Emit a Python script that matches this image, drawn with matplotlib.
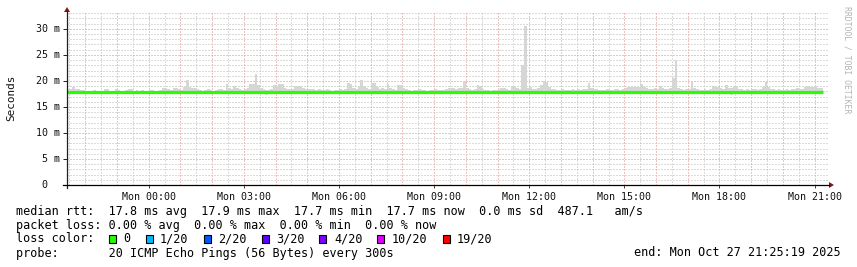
import numpy as np
import matplotlib
matplotlib.use("Agg")
import matplotlib.pyplot as plt
from matplotlib.patches import Rectangle, Polygon
from matplotlib.lines import Line2D
import matplotlib.transforms as mtrans

W, H, DPI = 857, 267, 100

# ---------------- data (ms), one value per 5-minute step ----------------
step_hours = 5 / 60
end_hours = 21 + 25 / 60 + 19 / 3600          # Mon 21:25:19
start_hours = end_hours - 24

smoke_top = (
    [18.4, 18.5, 18.9, 18.5, 18.4, 18.3, 18.2, 18.1, 18.1, 18.1, 18.2, 18.1,
     18.1, 18.1, 18.4, 18.4, 18.1, 18.1, 18.4, 18.3, 18.1, 18.1, 18.2, 18.4] +
    [18.4, 18.1, 18.2, 18.1, 18.3, 18.1, 18.1, 18.3, 18.2, 18.1, 18.1, 18.2,
     18.6, 18.6, 18.5, 18.2, 18.6, 18.6, 18.5, 18.3, 18.9, 20.2, 18.9, 18.6] +
    [18.6, 18.5, 18.3, 18.1, 18.2, 18.4, 18.2, 18.1, 18.3, 18.5, 18.4, 18.3,
     19.4, 18.6, 18.5, 19.0, 18.7, 18.4, 18.3, 18.5, 18.6, 19.4, 19.4, 21.3] +
    [19.2, 18.6, 18.4, 18.3, 18.2, 18.5, 19.2, 19.1, 19.4, 19.4, 18.6, 18.5,
     18.5, 18.5, 19.0, 19.0, 19.0, 18.6, 18.4, 18.4, 18.4, 18.4, 18.3, 18.4] +
    [18.3, 18.2, 18.4, 18.3, 18.1, 18.2, 18.3, 18.4, 18.2, 18.4, 19.6, 19.5,
     18.6, 18.5, 19.0, 20.1, 19.0, 18.6, 18.5, 19.6, 19.6, 18.8, 18.5, 18.6] +
    [18.5, 19.4, 18.7, 18.4, 18.3, 19.2, 19.2, 18.6, 18.4, 18.2, 18.1, 18.3,
     18.2, 18.4, 18.3, 18.2, 18.1, 18.3, 18.2, 18.4, 18.3, 18.2, 18.3, 18.4] +
    [18.6, 18.6, 18.6, 18.5, 18.6, 18.6, 19.9, 18.7, 18.5, 18.3, 18.4, 19.2,
     19.0, 18.4, 18.3, 18.2, 18.1, 18.2, 18.3, 18.4, 18.6, 18.6, 18.5, 18.3] +
    [19.0, 19.0, 18.6, 18.5, 23.1, 30.6, 18.7, 18.8, 18.5, 18.4, 18.6, 19.2,
     19.9, 19.8, 18.8, 18.5, 18.4, 18.3, 18.2, 18.4, 18.3, 18.2, 18.3, 18.4] +
    [18.3, 18.4, 18.2, 18.5, 18.4, 19.6, 18.6, 18.4, 18.5, 18.3, 18.2, 18.3,
     18.4, 18.2, 18.3, 18.4, 18.5, 18.3, 18.4, 18.6, 18.9, 18.9, 18.8, 18.9] +
    [18.9, 19.4, 18.8, 18.6, 18.5, 18.4, 18.6, 18.5, 19.0, 18.6, 18.4, 18.5,
     18.6, 20.5, 24.0, 18.6, 18.4, 18.3, 18.4, 18.5, 19.7, 18.6, 18.4, 18.3] +
    [18.3, 18.4, 18.3, 18.5, 19.0, 19.0, 18.9, 18.6, 18.5, 19.2, 18.7, 18.6,
     19.0, 18.9, 18.5, 18.4, 18.3, 18.4, 18.3, 18.5, 18.4, 18.3, 18.5, 18.8] +
    [19.7, 18.8, 18.5, 18.4, 18.3, 18.4, 18.3, 18.2, 18.4, 18.3, 18.4, 18.5,
     18.6, 18.4, 18.5, 18.9, 19.0, 18.9, 18.8, 19.0, 18.7, 18.6]
)

# lower edge of the smoke (min ping), mostly hidden below the median line
smoke_low = (
    [17.6] * 24 + [17.6] * 24 + [17.6] * 24 +
    [17.6, 17.6, 17.6, 17.3, 17.6, 17.6, 17.6, 17.6, 17.6, 17.6, 17.6, 17.6,
     17.6, 17.6, 17.6, 17.6, 17.6, 17.6, 17.6, 17.6, 17.6, 17.6, 17.6, 17.6] +
    [17.6] * 24 + [17.6] * 24 + [17.6] * 24 + [17.6] * 24 + [17.6] * 24 +
    [17.6] * 24 +
    [17.6, 17.6, 17.6, 17.6, 17.6, 17.6, 17.6, 17.6, 17.6, 17.6, 17.6, 17.3,
     17.6, 17.6, 17.6, 17.6, 17.6, 17.6, 17.6, 17.6, 17.6, 17.6, 17.6, 17.6] +
    [17.6] * 22
)

median_rtt = [17.8] * len(smoke_top)

x_tick_hours = [0, 3, 6, 9, 12, 15, 18, 21]
x_tick_labels = ["Mon 00:00", "Mon 03:00", "Mon 06:00", "Mon 09:00",
                 "Mon 12:00", "Mon 15:00", "Mon 18:00", "Mon 21:00"]
y_tick_values = [0, 5, 10, 15, 20, 25, 30]
y_tick_labels = ["0", "5 m", "10 m", "15 m", "20 m", "25 m", "30 m"]

loss_labels = ["0", "1/20", "2/20", "3/20", "4/20", "10/20", "19/20"]
loss_colors = ["#26ff00", "#00b8ff", "#0059ff", "#5e00ff", "#7e00ff",
               "#dd00ff", "#ff0000"]

line_rtt = "median rtt:  17.8 ms avg  17.9 ms max  17.7 ms min  17.7 ms now  0.0 ms sd  487.1   am/s"
line_loss = "packet loss: 0.00 % avg  0.00 % max  0.00 % min  0.00 % now"
line_probe = "probe:       20 ICMP Echo Pings (56 Bytes) every 300s"
line_end = "end: Mon Oct 27 21:25:19 2025"

# ---------------- figure ----------------
MONO = "DejaVu Sans Mono"
fig = plt.figure(figsize=(W / DPI, H / DPI), dpi=DPI, facecolor="white")


def fx(px):
    return px / W


def fy(py):
    return 1 - py / H


ax_l, ax_r, ax_t, ax_b = 67, 828, 13, 185
ax = fig.add_axes([fx(ax_l), fy(ax_b), (ax_r - ax_l) / W, (ax_b - ax_t) / H])
ax.set_facecolor("white")
ax.set_xlim(start_hours, end_hours)
ax.set_ylim(0, 33.05)
for s in ax.spines.values():
    s.set_visible(False)

# grid: 1px dotted lines
minor_col = "#b8b8b8"
major_col = "#e08888"
dot = (0, (1, 2))


def grid_line(line):
    line.set_snap(True)
    return line


h = np.ceil(start_hours * 2) / 2
while h < end_hours:
    is_major = abs(h - round(h)) < 1e-9
    grid_line(ax.axvline(h, color=major_col if is_major else minor_col,
                         lw=0.72, ls=dot, zorder=1))
    h += 0.5
for v in range(1, 34):
    grid_line(ax.axhline(v, color=major_col if v % 5 == 0 else minor_col,
                         lw=0.72, ls=dot, zorder=1))

# smoke
n = len(smoke_top)
edges = start_hours + np.arange(n + 1) * step_hours
top = np.array(smoke_top)
low = np.array(smoke_low)
med = np.array(median_rtt)
ax.bar(edges[:-1], top - low, bottom=low, width=step_hours, align="edge",
       color="#d6d6d6", linewidth=0, zorder=2)

# median line
ax.stairs(med, edges, baseline=None, color="#26ff00", lw=2.3, zorder=3)

# ticks
ax.set_xticks(x_tick_hours)
ax.set_xticklabels(x_tick_labels, fontfamily=MONO, fontsize=7.2, color="#111")
ax.tick_params(axis="x", length=2, width=0.7, color="#444", pad=3)
ax.set_yticks(y_tick_values)
ax.set_yticklabels([])
ax.tick_params(axis="y", length=3, width=0.7, color="#222", pad=2)
tr = mtrans.blended_transform_factory(fig.transFigure, ax.transData)
for v, lab in zip(y_tick_values, y_tick_labels):
    xr = 47 if lab == "0" else 59.5
    ax.text(fx(xr), v, lab, transform=tr, ha="right", va="center",
            fontfamily=MONO, fontsize=7.2, color="#111")

# axes lines with arrows
fig.add_artist(Line2D([fx(ax_l), fx(ax_l)], [fy(ax_b + 3), fy(ax_t - 2)],
                      color="#202020", lw=0.9))
fig.add_artist(Line2D([fx(ax_l - 4), fx(ax_r + 1)], [fy(ax_b), fy(ax_b)],
                      color="#000000", lw=0.9))
arrow_col = "#801818"
fig.add_artist(Polygon([[fx(ax_l - 3), fy(ax_t - 1)], [fx(ax_l + 3), fy(ax_t - 1)],
                        [fx(ax_l), fy(ax_t - 6)]], closed=True,
                       color=arrow_col, lw=0))
fig.add_artist(Polygon([[fx(ax_r + 1), fy(ax_b - 3)], [fx(ax_r + 1), fy(ax_b + 3)],
                        [fx(ax_r + 6), fy(ax_b)]], closed=True,
                       color=arrow_col, lw=0))

# y label
fig.text(fx(11), fy(98), "Seconds", rotation=90, ha="center", va="center",
         fontfamily=MONO, fontsize=7.9, color="#111")

# watermark
fig.text(fx(847), fy(6), "RRDTOOL / TOBI OETIKER", rotation=-90, ha="center",
         va="top", fontfamily=MONO, fontsize=5.9, color="#b4b4b4")

# legend text
LFS = 8.5
fig.text(fx(16), fy(211), line_rtt, ha="left", va="center", fontfamily=MONO,
         fontsize=LFS, color="#000")
fig.text(fx(16), fy(225), line_loss, ha="left", va="center", fontfamily=MONO,
         fontsize=LFS, color="#000")
fig.text(fx(16), fy(239), "loss color:", ha="left", va="center",
         fontfamily=MONO, fontsize=LFS, color="#000")
sq_x = [109, 146, 204, 262, 319, 377, 443]
txt_x = [123, 160, 218, 276, 334, 392, 457]
for sx, tx, lab, col in zip(sq_x, txt_x, loss_labels, loss_colors):
    fig.add_artist(Rectangle((fx(sx), fy(243)), 7 / W, 8 / H,
                             facecolor=col, edgecolor="#000", lw=0.8))
    fig.text(fx(tx), fy(239), lab, ha="left", va="center", fontfamily=MONO,
             fontsize=LFS, color="#000")
fig.text(fx(16), fy(253), line_probe, ha="left", va="center", fontfamily=MONO,
         fontsize=LFS, color="#000")
fig.text(fx(841), fy(253), line_end, ha="right", va="center", fontfamily=MONO,
         fontsize=LFS, color="#000")

fig.savefig("out.png", dpi=DPI, facecolor="white")
